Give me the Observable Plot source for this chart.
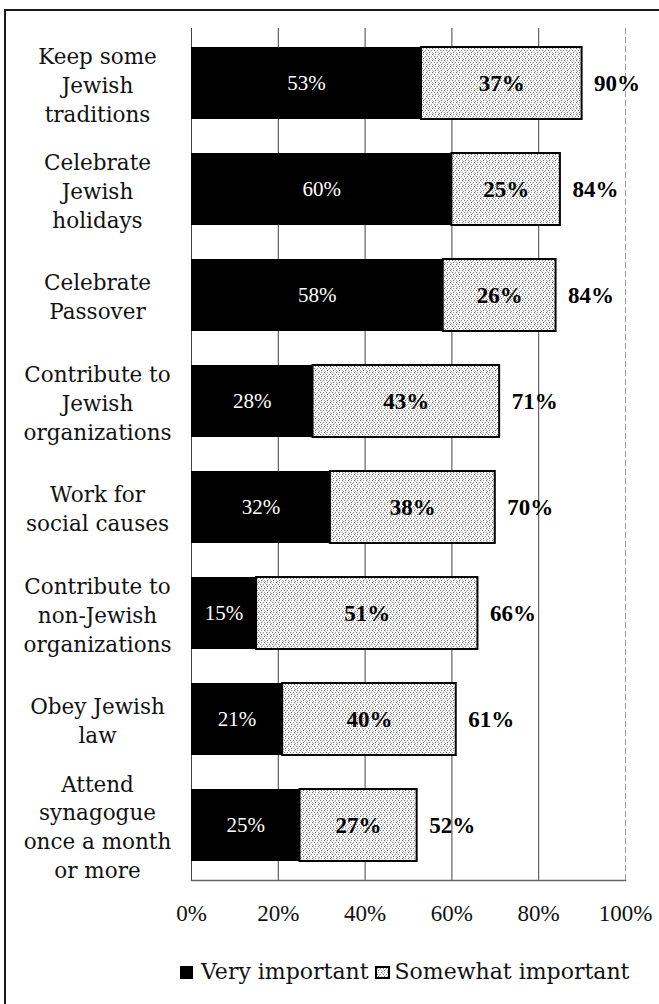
<!DOCTYPE html>
<html><head><meta charset="utf-8">
<script src="https://cdn.jsdelivr.net/npm/d3@7"></script>
<script src="https://cdn.jsdelivr.net/npm/@observablehq/plot@0.6"></script>
<style>
body{margin:0;background:#fff;width:659px;height:1004px;overflow:hidden;position:relative;font-family:"DejaVu Serif",serif;}
#frame{position:absolute;left:4px;top:9px;width:700px;height:1000px;border-top:2px solid #1a1a1a;border-left:2px solid #1a1a1a;}
#chart{position:absolute;left:0;top:0;}
#legend{position:absolute;left:180px;top:957px;font-size:22px;color:#111;white-space:nowrap;line-height:28px;}
#legend span{vertical-align:middle;}
#legend svg{vertical-align:middle;}
</style></head>
<body>
<div id="frame"></div>
<div id="chart"></div>
<div id="legend"></div>
<script>
const categories = [
  "Keep some\nJewish\ntraditions",
  "Celebrate\nJewish\nholidays",
  "Celebrate\nPassover",
  "Contribute to\nJewish\norganizations",
  "Work for\nsocial causes",
  "Contribute to\nnon-Jewish\norganizations",
  "Obey Jewish\nlaw",
  "Attend\nsynagogue\nonce a month\nor more"
];
const veryImportant = [53, 60, 58, 28, 32, 15, 21, 25];
const somewhatImportant = [37, 25, 26, 43, 38, 51, 40, 27];
const totals = [90, 84, 84, 71, 70, 66, 61, 52];
const xTicks = [0, 20, 40, 60, 80, 100];
const seriesNames = ["Very important", "Somewhat important"];

const data = categories.map((c, i) => ({
  category: c,
  very: veryImportant[i],
  somewhat: somewhatImportant[i],
  total: totals[i]
}));

const numFont = "Liberation Serif";

const plot = Plot.plot({
  width: 659,
  height: 940,
  marginLeft: 191,
  marginRight: 34,
  marginTop: 28,
  marginBottom: 60,
  style: {fontFamily: "DejaVu Serif", background: "transparent", color: "#111"},
  x: {domain: [0, 100]},
  y: {domain: categories, paddingInner: 0.32, paddingOuter: 0.16, axis: null},
  marks: [
    Plot.ruleX(xTicks.filter(d => d < 100), {stroke: "#444", strokeWidth: 1}),
    Plot.ruleX(xTicks.filter(d => d === 100), {stroke: "#999", strokeWidth: 1, strokeDasharray: "6,3"}),
    Plot.frame({anchor: "bottom", stroke: "#666", strokeWidth: 1.5}),
    Plot.barX(data, {y: "category", x1: 0, x2: "very", fill: "black"}),
    Plot.barX(data, {y: "category", x1: "very", x2: d => d.very + d.somewhat, fill: "url(#stipple)", stroke: "black", strokeWidth: 2}),
    Plot.text(data, {y: "category", x: d => d.very / 2, text: d => d.very + "%", fill: "white", fontSize: 21, fontFamily: numFont}),
    Plot.text(data, {y: "category", x: d => d.very + d.somewhat / 2, text: d => d.somewhat + "%", fill: "black", fontSize: 23, fontWeight: "bold", fontFamily: numFont}),
    Plot.text(data, {y: "category", x: d => d.very + d.somewhat, dx: 12, textAnchor: "start", text: d => d.total + "%", fill: "black", fontSize: 23, fontWeight: "bold", fontFamily: numFont}),
    Plot.text(data, {y: "category", frameAnchor: "left", dx: -94, textAnchor: "middle", text: "category", fontSize: 21.5, lineHeight: 1.34, fill: "#111"}),
    Plot.axisX(xTicks, {tickSize: 0, tickPadding: 24, tickFormat: d => d + "%", fontSize: 23, fontFamily: numFont, label: null, fill: "#111"})
  ]
});

const defs = document.createElementNS("http://www.w3.org/2000/svg", "defs");
defs.innerHTML = `<pattern id="stipple" patternUnits="userSpaceOnUse" width="6" height="6">
  <rect width="6" height="6" fill="#fafafa"/>
  <rect x="0" y="0" width="1" height="1" fill="#666"/>
  <rect x="3" y="0" width="1" height="1" fill="#999"/>
  <rect x="2" y="2" width="1" height="1" fill="#777"/>
  <rect x="5" y="2" width="1" height="1" fill="#888"/>
  <rect x="0" y="4" width="1" height="1" fill="#aaa"/>
  <rect x="3" y="4" width="1" height="1" fill="#666"/>
  <rect x="1" y="1" width="1" height="1" fill="#ccc"/>
  <rect x="4" y="3" width="1" height="1" fill="#bbb"/>
  <rect x="1" y="5" width="1" height="1" fill="#999"/>
</pattern>`;
plot.insertBefore(defs, plot.firstChild);
document.getElementById("chart").appendChild(plot);

const legend = document.getElementById("legend");
legend.innerHTML =
  `<svg width="13" height="13"><rect width="13" height="13" fill="black"/></svg><span style="margin-left:8px">${seriesNames[0]}</span>` +
  `<svg width="15" height="13" style="margin-left:6px"><rect x="1" y="1" width="13" height="11" fill="url(#stipple)" stroke="black" stroke-width="2"/></svg><span style="margin-left:5px">${seriesNames[1]}</span>`;
</script>
</body></html>
